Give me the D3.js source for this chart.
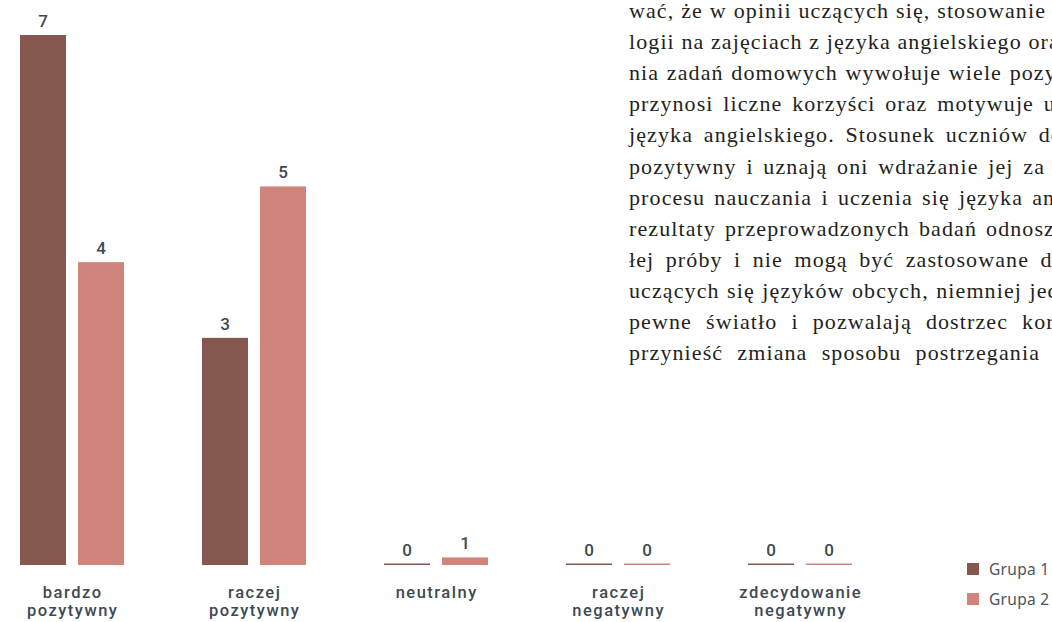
<!DOCTYPE html>
<html>
<head>
<meta charset="utf-8">
<script src="https://cdn.jsdelivr.net/npm/d3@7"></script>
<style>
  html, body { margin: 0; padding: 0; background: #fff; }
  svg { display: block; }
</style>
</head>
<body>
<div id="chart"></div>
<script>
// chart data
const categories = ["bardzo pozytywny", "raczej pozytywny", "neutralny", "raczej negatywny", "zdecydowanie negatywny"];
const categoryLines = [["bardzo", "pozytywny"], ["raczej", "pozytywny"], ["neutralny"], ["raczej", "negatywny"], ["zdecydowanie", "negatywny"]];
const series = ["Grupa 1", "Grupa 2"];
const grupa1 = [7, 3, 0, 0, 0];
const grupa2 = [4, 5, 0.1, 0, 0];
const grupa1Labels = ["7", "3", "0", "0", "0"];
const grupa2Labels = ["4", "5", "1", "0", "0"];

// paragraph behind the chart (page text, cut at the right edge)
const paraVisible = [
  "wać, że w opinii uczących się, stosowanie",
  "logii na zajęciach z języka angielskiego",
  "nia zadań domowych wywołuje wiele",
  "przynosi liczne korzyści oraz motywuje",
  "języka angielskiego. Stosunek uczniów",
  "pozytywny i uznają oni wdrażanie jej za",
  "procesu nauczania i uczenia się języka",
  "rezultaty przeprowadzonych badań",
  "łej próby i nie mogą być zastosowane",
  "uczących się języków obcych, niemniej",
  "pewne światło i pozwalają dostrzec",
  "przynieść zmiana sposobu postrzegania"
];
const paraTail = ["technologii", "oraz", "pozytywnych", "uczniów", "do technologii", "cenną", "angielskiego", "odnoszą", "do", "jednak", "korzyści", "technologii"];

const width = 1052, height = 622;
const colors = ["#86574f", "#d0847b"];
const textColor = "#3d4a51";
const sans = "'Roboto', 'Noto Sans', sans-serif";

const svg = d3.select("#chart").append("svg")
  .attr("width", width)
  .attr("height", height);

// --- paragraph text
const paraRight = [1046, 1017, 1002, 1034, 1028, 1045, 1023, 977, 1029, 1022, 1008, 1040];
const paraX = 629;
const para = svg.append("g").attr("id", "paragraph");

paraVisible.forEach((line, i) => {
  let t = para.append("text")
    .attr("x", paraX)
    .attr("y", 18 + i * 31.1)
    .attr("font-family", "'Liberation Serif', 'DejaVu Serif', serif")
    .attr("font-size", 22)
    .attr("letter-spacing", 1.1)
    .attr("fill", "#231f20")
    .text(line);
  let natural = t.node().getComputedTextLength();
  let gaps = line.split(" ").length - 1;
  let ws = gaps > 0 ? Math.max(0, (paraRight[i] - paraX - natural) / gaps) : 0;
  t.attr("word-spacing", ws).text(line + " " + paraTail[i]);
});

// --- scales
const x0 = d3.scaleBand()
  .domain(categories)
  .range([20, 852])
  .paddingInner(78 / 182)
  .paddingOuter(0);

const x1 = d3.scaleBand()
  .domain(series)
  .range([0, x0.bandwidth()])
  .paddingInner(12 / 58);

const y = d3.scaleLinear()
  .domain([0, 7])
  .range([565, 35]);

const values = [grupa1, grupa2];
const labels = [grupa1Labels, grupa2Labels];

const rows = [];
categories.forEach((c, i) => {
  series.forEach((s, j) => {
    rows.push({cat: c, s: s, j: j, v: values[j][i], label: labels[j][i]});
  });
});

const bars = svg.append("g").attr("id", "bars");

bars.selectAll("rect")
  .data(rows)
  .join("rect")
  .attr("x", d => x0(d.cat) + x1(d.s))
  .attr("width", x1.bandwidth())
  .attr("y", d => Math.min(y(d.v), y(0) - 1.5))
  .attr("height", d => Math.max(y(0) - y(d.v), 1.5))
  .attr("fill", d => colors[d.j]);

// value labels
bars.selectAll("text")
  .data(rows)
  .join("text")
  .attr("x", d => x0(d.cat) + x1(d.s) + x1.bandwidth() / 2)
  .attr("y", d => Math.min(y(d.v), y(0) - 1.5) - 8)
  .attr("text-anchor", "middle")
  .attr("font-family", sans)
  .attr("font-weight", 500)
  .attr("font-size", 17)
  .attr("fill", textColor)
  .text(d => d.label);

// category labels
const cats = svg.append("g").attr("id", "categories");
categories.forEach((c, i) => {
  let t = cats.append("text")
    .attr("text-anchor", "middle")
    .attr("font-family", sans)
    .attr("font-weight", 500)
    .attr("font-size", 16.5)
    .attr("letter-spacing", 1.5)
    .attr("fill", textColor);
  categoryLines[i].forEach((w, k) => {
    t.append("tspan")
      .attr("x", x0(c) + x0.bandwidth() / 2 + 0.7)
      .attr("y", 598 + k * 17.5)
      .text(w);
  });
});

// legend
const legend = svg.append("g").attr("id", "legend")
  .attr("transform", "translate(967,563)");

series.forEach((s, j) => {
  legend.append("rect")
    .attr("x", 0)
    .attr("y", j * 30)
    .attr("width", 12)
    .attr("height", 12)
    .attr("fill", colors[j]);
  legend.append("text")
    .attr("x", 22)
    .attr("y", j * 30 + 12)
    .attr("font-family", "'Noto Sans', sans-serif")
    .attr("font-size", 15.5)
    .attr("letter-spacing", 0.3)
    .attr("fill", "#4a555c")
    .text(s);
});
</script>
</body>
</html>
